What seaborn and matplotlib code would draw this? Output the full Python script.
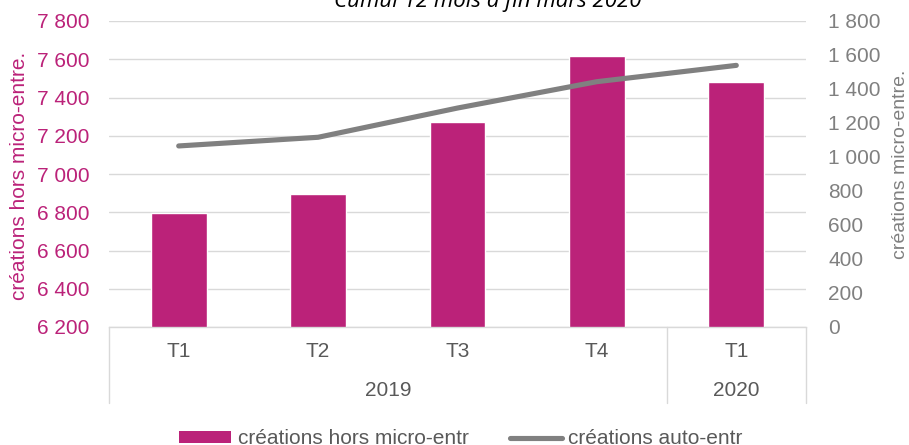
import numpy as np
import pandas as pd
import matplotlib
matplotlib.use("Agg")
import matplotlib.pyplot as plt
import matplotlib.transforms as mtransforms
from matplotlib.ticker import FuncFormatter, MultipleLocator
from matplotlib.patches import Patch
from matplotlib.lines import Line2D
import seaborn as sns

# ---- data ----
years = ["2019", "2019", "2019", "2019", "2020"]
quarters = ["T1", "T2", "T3", "T4", "T1"]
hors_micro = [6795, 6894, 7272, 7617, 7481]
auto_entr = [1065, 1116, 1288, 1443, 1539]
title = "Cumul 12 mois à fin mars 2020"
label_bar = "créations hors micro-entr"
label_line = "créations auto-entr"
ylabel_left = "créations hors micro-entre."
ylabel_right = "créations micro-entre."

keys = [f"{y} {q}" for y, q in zip(years, quarters)]
df = pd.DataFrame({"periode": keys, "hors": hors_micro, "auto": auto_entr,
                   "pos": np.arange(len(keys))})

BAR = "#BB2279"
LINE = "#808080"
GRID = "#D9D9D9"
TXT = "#595959"

sns.set_theme(style="white")
plt.rcParams["font.family"] = ["Liberation Sans", "DejaVu Sans"]

fig = plt.figure(figsize=(9.09, 4.45), dpi=100)
ax = fig.add_axes([109/909, 1-327/445, 697/909, 306/445])
ax2 = ax.twinx()

sns.barplot(data=df, x="periode", y="hors", order=keys, color=BAR,
            width=0.40, saturation=1, ax=ax, zorder=2)
sns.lineplot(data=df, x="pos", y="auto", ax=ax2, color=LINE, linewidth=3.7,
             solid_capstyle="round", zorder=3)

ax.set_xlim(-0.5, len(keys) - 0.5)
ax.set_ylim(6200, 7800)
ax2.set_ylim(0, 1800)
ax.yaxis.set_major_locator(MultipleLocator(200))
ax2.yaxis.set_major_locator(MultipleLocator(200))
fmt = FuncFormatter(lambda v, p: f"{v:,.0f}".replace(",", " "))
ax.yaxis.set_major_formatter(fmt)
ax2.yaxis.set_major_formatter(fmt)

ax.grid(axis="y", color=GRID, linewidth=1.0, zorder=0)
ax.set_axisbelow(True)
ax2.grid(False)

for a in (ax, ax2):
    for s in a.spines.values():
        s.set_visible(False)
ax.spines["bottom"].set_visible(True)
ax.spines["bottom"].set_color(GRID)
ax.spines["bottom"].set_linewidth(1.0)

ax.tick_params(axis="y", length=0, pad=14, labelsize=15, labelcolor=BAR)
ax2.tick_params(axis="y", length=0, pad=16, labelsize=15, labelcolor=LINE)
ax.set_xticks(range(len(keys)))
ax.set_xticklabels(quarters)
ax.tick_params(axis="x", length=0, pad=10.5, labelsize=15, labelcolor=TXT)
ax.set_xlabel("")

# labels
ax.set_ylabel(ylabel_left, fontsize=15, color=BAR)
ax.yaxis.label.set_verticalalignment("center")
ax.yaxis.set_label_coords(-0.128, 0.493)
ax2.set_ylabel(ylabel_right, fontsize=14, color=LINE, rotation=90)
ax2.yaxis.label.set_verticalalignment("center")
ax2.yaxis.set_label_coords(1.136, 0.533)

# multi-level category axis
trans = mtransforms.blended_transform_factory(ax.transData, ax.transAxes)
groups = []
for i, y in enumerate(years):
    if not groups or groups[-1][0] != y:
        groups.append([y, i, i])
    else:
        groups[-1][2] = i
bounds = [-0.5] + [g[2] + 0.5 for g in groups]
for b in bounds:
    ax.plot([b, b], [0, -0.248], transform=trans, color=GRID, linewidth=1.0,
            clip_on=False, zorder=1)
for y, i0, i1 in groups:
    ax.text((i0 + i1) / 2, -0.206, y, transform=trans, ha="center", va="center",
            fontsize=15, color=TXT)

# title (cut at top)
fig.text(488/909, 1-7/445, title, ha="center", va="baseline",
         fontsize=16, style="italic", color="#000000",
         family=["Open Sans", "DejaVu Sans"])

handles = [Patch(facecolor=BAR, edgecolor="none"),
           Line2D([0], [0], color=LINE, linewidth=3.7, solid_capstyle="round")]
fig.legend(handles, [label_bar, label_line], loc="center",
           bbox_to_anchor=(461/909, 1-439/445), ncol=2, frameon=False,
           fontsize=15, labelcolor=TXT, handlelength=2.5, handleheight=0.55,
           handletextpad=0.3, columnspacing=2.0, borderpad=0, borderaxespad=0)

fig.savefig("out.png", dpi=100)
